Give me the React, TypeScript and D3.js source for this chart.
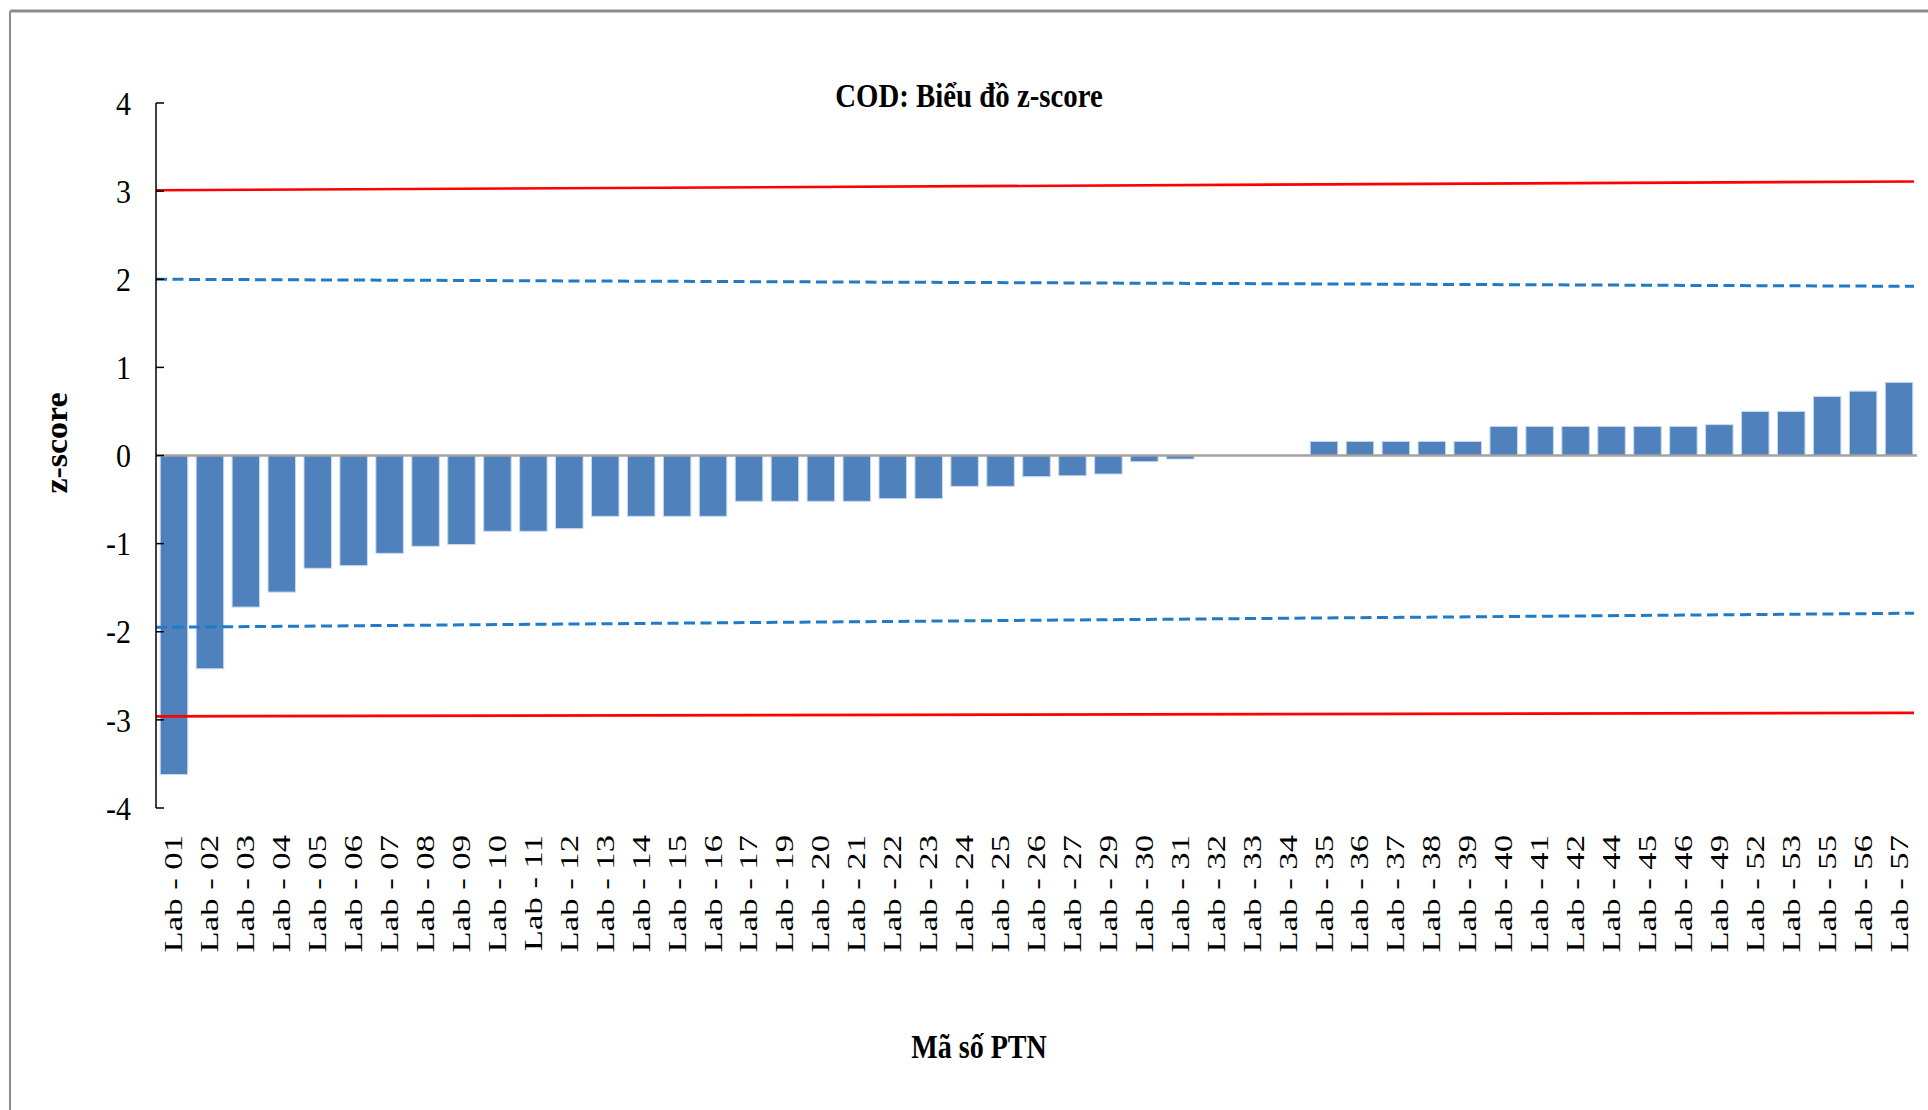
import React from "react";
import * as d3 from "d3";

const labs = [
  "01","02","03","04","05","06","07","08","09","10",
  "11","12","13","14","15","16","17","19","20","21",
  "22","23","24","25","26","27","29","30","31","32",
  "33","34","35","36","37","38","39","40","41","42",
  "44","45","46","49","52","53","55","56","57",
];
const zScores = [
  -3.62,-2.42,-1.72,-1.55,-1.28,-1.25,-1.11,-1.03,-1.01,-0.86,
  -0.86,-0.83,-0.69,-0.69,-0.69,-0.69,-0.52,-0.52,-0.52,-0.52,
  -0.49,-0.49,-0.35,-0.35,-0.24,-0.23,-0.21,-0.07,-0.04,0,
  0,0,0.16,0.16,0.16,0.16,0.16,0.33,0.33,0.33,
  0.33,0.33,0.33,0.35,0.5,0.5,0.67,0.73,0.83,
];
const yTicks = [4, 3, 2, 1, 0, -1, -2, -3, -4];
// limit lines: value at left end, value at right end
const limitNames = ["+3", "+2", "-2", "-3"];
const limitStart = [3.01, 2.0, -1.95, -2.96];
const limitEnd = [3.11, 1.92, -1.79, -2.92];
const limitColors = ["#FF0000", "#1F7BC8", "#1F7BC8", "#FF0000"];
const limitDash = ["", "11,5.5", "11,5.5", ""];

const title = "COD: Biểu đồ z-score";
const xTitle = "Mã số PTN";
const yTitle = "z-score";

const W = 1928;
const H = 1110;
const left = 156;
const right = 1917;
const top = 103;
const bottom = 808;
const font = "'Liberation Serif', 'Times New Roman', serif";

export default function App() {
  const x = d3.scaleBand<string>().domain(labs).range([left, right]).paddingInner(0.235).paddingOuter(0.1175);
  const y = d3.scaleLinear().domain([-4, 4]).range([bottom, top]);
  const lineGen = d3.line<[number, number]>().x((d) => d[0]).y((d) => y(d[1]));

  return (
    <svg width={W} height={H} style={{ position: "absolute", left: 0, top: 0, background: "#fff" }}>
      <rect x={0} y={0} width={W} height={H} fill="#ffffff" />
      {/* chart frame */}
      <line x1={10} y1={11} x2={W} y2={11} stroke="#8c8c8c" strokeWidth={3} />
      <line x1={10} y1={11} x2={10} y2={H} stroke="#8c8c8c" strokeWidth={2} />

      {/* title */}
      <text transform={`translate(969,107) scale(0.86,1)`} textAnchor="middle" fontFamily={font} fontWeight="bold" fontSize={33.5} fill="#000">
        {title}
      </text>

      {/* bars */}
      {labs.map((l, i) => {
        const v = zScores[i];
        if (v === 0) return null;
        const y0 = y(Math.max(0, v));
        const y1 = y(Math.min(0, v));
        return (
          <rect key={l} x={x(l)} y={y0} width={x.bandwidth()} height={y1 - y0} fill="#4F81BD" stroke="#c9d9ee" strokeWidth={1} />
        );
      })}

      {/* zero baseline */}
      <line x1={left} x2={right} y1={y(0)} y2={y(0)} stroke="#a3a3a3" strokeWidth={2.5} />

      {/* limit lines */}
      {limitNames.map((n, i) => (
        <path
          key={n}
          d={lineGen([[left, limitStart[i]], [right - 3, limitEnd[i]]]) || ""}
          stroke={limitColors[i]}
          strokeWidth={limitDash[i] ? 3 : 2.6}
          strokeDasharray={limitDash[i] || undefined}
          fill="none"
        />
      ))}

      {/* y axis */}
      <line x1={left} x2={left} y1={top} y2={bottom} stroke="#000" strokeWidth={1.5} />
      {yTicks.map((t) => (
        <g key={t}>
          <line x1={left} x2={left + 8} y1={y(t)} y2={y(t)} stroke="#000" strokeWidth={1.5} />
          <text transform={`translate(131,${y(t)}) scale(0.88,1)`} textAnchor="end" dominantBaseline="central" fontFamily={font} fontSize={34} fill="#000">
            {String(t)}
          </text>
        </g>
      ))}

      {/* x labels */}
      {labs.map((l) => {
        const cx = (x(l) as number) + x.bandwidth() / 2;
        return (
          <text key={l} transform={`translate(${cx + 8.5},835) scale(0.75,1.02) rotate(-90)`} textAnchor="end" fontFamily={font} fontSize={34} fill="#000">
            {`Lab - ${l}`}
          </text>
        );
      })}

      {/* axis titles */}
      <text transform={`translate(67,443) scale(0.9,1) rotate(-90)`} textAnchor="middle" fontFamily={font} fontWeight="bold" fontSize={34} fill="#000">
        {yTitle}
      </text>
      <text transform={`translate(979,1058) scale(0.85,1)`} textAnchor="middle" fontFamily={font} fontWeight="bold" fontSize={33} fill="#000">
        {xTitle}
      </text>
    </svg>
  );
}
